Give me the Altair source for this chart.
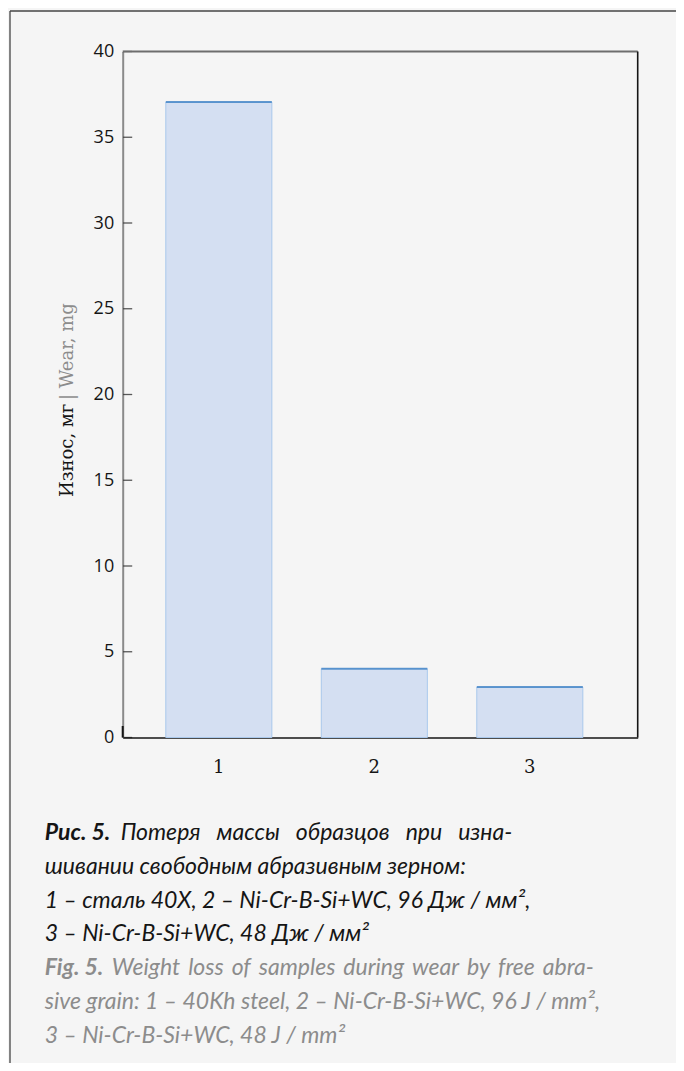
import altair as alt
import pandas as pd

# ---- data ----
categories = ["1", "2", "3"]
wear_mg = [37.05, 4.01, 2.94]
y_ticks = [0, 5, 10, 15, 20, 25, 30, 35, 40]

y_title_ru = "Износ, мг"
y_title_en = "| Wear, mg"

caption_ru_head = "Рис. 5."
caption_ru = [
    "Потеря\u2002 массы\u2002 образцов\u2002 при\u2002 изна-",
    "шивании свободным абразивным зерном:",
    "1 – сталь 40Х, 2 – Ni-Cr-B-Si+WC, 96 Дж / мм²,",
    "3 – Ni-Cr-B-Si+WC, 48 Дж / мм²",
]
caption_en_head = "Fig. 5."
caption_en = [
    "Weight\u2009 loss\u2009 of\u2009 samples\u2009 during\u2009 wear\u2009 by\u2009 free\u2009 abra-",
    "sive grain: 1 – 40Kh steel, 2 – Ni-Cr-B-Si+WC, 96 J / mm²,",
    "3 – Ni-Cr-B-Si+WC, 48 J / mm²",
]

# ---- layout ----
W, H = 515, 686
PAD_L, PAD_T = 114.7, 43.5
PAD_R = 668 - PAD_L - W
PAD_B = 1055 - PAD_T - H

BLACK = "#151515"
GRAY = "#8c8c8c"
CAP_FONT = "Lato"
CAP_SIZE = 23
CAP_X = -78.0
CAP_Y0 = 788.5
CAP_DY = 33.8

df = pd.DataFrame({"cat": categories, "wear": wear_mg})
ticks_df = pd.DataFrame({"wear": y_ticks})

x_enc = alt.X(
    "cat:N",
    sort=categories,
    scale=alt.Scale(paddingInner=0.318, paddingOuter=0.315, align=0.44),
    axis=alt.Axis(
        title=None, labelAngle=0, ticks=False, labelFont="DejaVu Serif",
        labelFontSize=18, labelColor=BLACK, labelPadding=21,
        domainColor=BLACK, domainWidth=1.5, grid=False,
    ),
)
y_enc = alt.Y(
    "wear:Q",
    scale=alt.Scale(domain=[0, 40], nice=False),
    axis=alt.Axis(
        title=None, values=y_ticks, ticks=False, labelFont="Open Sans",
        labelFontSize=18, labelColor=BLACK, labelPadding=9,
        domainColor="#8a8a8a", domainWidth=2, grid=False,
    ),
)

base = alt.Chart(df)
bars = base.mark_bar(fill="#d4dff2", stroke="#a9c8ec", strokeWidth=1).encode(x=x_enc, y=y_enc)
tops = base.mark_tick(color="#2e78c0", thickness=2, size=106).encode(
    x=alt.X("cat:N", sort=categories), y=alt.Y("wear:Q")
)
# inward-pointing y ticks
yticks = alt.Chart(ticks_df).mark_tick(color=BLACK, thickness=1.3, size=9, orient="horizontal").encode(
    y=alt.Y("wear:Q"), x=alt.value(5)
)

one = pd.DataFrame({"a": [0]})
# plot frame: grey top edge, black right edge
frame_plot_top = alt.Chart(one).mark_rule(color="#6e6e6e", strokeWidth=2).encode(
    x=alt.value(0), x2=alt.value(W), y=alt.value(0)
)
frame_plot_right = alt.Chart(one).mark_rule(color=BLACK, strokeWidth=1.6).encode(
    x=alt.value(W), y=alt.value(0), y2=alt.value(H)
)
# dark segment at the foot of the y axis
axis_foot = alt.Chart(one).mark_rule(color=BLACK, strokeWidth=2).encode(
    x=alt.value(0), y=alt.value(H - 11.5), y2=alt.value(H)
)


def text_layer(txt, xv, yv, **kw):
    return alt.Chart(pd.DataFrame({"t": [txt]})).mark_text(**kw).encode(
        text="t:N", x=alt.value(xv), y=alt.value(yv)
    )


layers = [bars, tops, yticks, frame_plot_top, frame_plot_right, axis_foot]

# y-axis title in two colours
layers.append(text_layer(y_title_ru, -49.4, 445.5, angle=270, align="left", baseline="alphabetic",
                         font="DejaVu Serif", fontSize=18, color=BLACK))
layers.append(text_layer(y_title_en, -49.4, 348.5, angle=270, align="left", baseline="alphabetic",
                         font="DejaVu Serif", fontSize=18, color=GRAY))

# caption
layers.append(text_layer(caption_ru_head, CAP_X, CAP_Y0, align="left", baseline="alphabetic",
                         font=CAP_FONT, fontSize=CAP_SIZE, fontStyle="italic", fontWeight="bold", color=BLACK))
for i, line in enumerate(caption_ru):
    xv = CAP_X + 76 if i == 0 else CAP_X
    layers.append(text_layer(line, xv, CAP_Y0 + i * CAP_DY, align="left", baseline="alphabetic",
                             font=CAP_FONT, fontSize=CAP_SIZE, fontStyle="italic", color=BLACK))
en_y0 = CAP_Y0 + len(caption_ru) * CAP_DY
layers.append(text_layer(caption_en_head, CAP_X, en_y0, align="left", baseline="alphabetic",
                         font=CAP_FONT, fontSize=CAP_SIZE, fontStyle="italic", fontWeight="bold", color=GRAY))
for i, line in enumerate(caption_en):
    xv = CAP_X + 67 if i == 0 else CAP_X
    layers.append(text_layer(line, xv, en_y0 + i * CAP_DY, align="left", baseline="alphabetic",
                             font=CAP_FONT, fontSize=CAP_SIZE, fontStyle="italic", color=GRAY))

# outer frame (top and left edges)
frame_top = alt.Chart(one).mark_rule(color="#444", strokeWidth=1.3).encode(
    x=alt.value(-112.7), x2=alt.value(W + PAD_R + 5), y=alt.value(-40.5)
)
frame_left = alt.Chart(one).mark_rule(color="#444", strokeWidth=1.3).encode(
    x=alt.value(-112.7), y=alt.value(-40.5), y2=alt.value(H + PAD_B + 5)
)
layers += [frame_top, frame_left]

chart = (
    alt.layer(*layers)
    .properties(
        width=W, height=H,
        padding={"left": PAD_L, "top": PAD_T, "right": PAD_R, "bottom": PAD_B},
        autosize=alt.AutoSizeParams(type="none"),
        background="#f5f5f5",
    )
    .configure_view(stroke=None)
)

chart.save("out.html", embed_options={"renderer": "svg", "actions": False})
